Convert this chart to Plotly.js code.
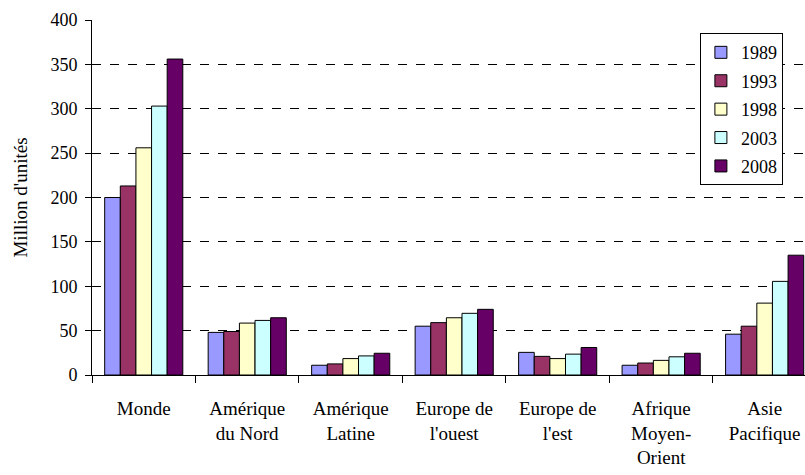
<!DOCTYPE html>
<html>
<head>
<meta charset="utf-8">
<script src="https://cdn.plot.ly/plotly-3.0.1.min.js"></script>
<style>html,body{margin:0;padding:0;background:#fff;}#chart{width:805px;height:475px;}</style>
</head>
<body>
<div id="chart"></div>
<script>
const categories = ["Monde", "Amérique<br>du Nord", "Amérique<br>Latine", "Europe de<br>l'ouest", "Europe de<br>l'est", "Afrique<br>Moyen-<br>Orient", "Asie<br>Pacifique"];
const years = ["1989", "1993", "1998", "2003", "2008"];
const v1989 = [200, 48, 11, 55, 25.5, 11, 46];
const v1993 = [213, 49, 12.5, 59, 21, 13.5, 55];
const v1998 = [256, 58.5, 18.5, 64.5, 18.5, 16.5, 81];
const v2003 = [303, 61.5, 21.5, 69.5, 23.5, 20.5, 105.5];
const v2008 = [356, 64.5, 24.5, 74, 31, 24.5, 135];
const seriesValues = [v1989, v1993, v1998, v2003, v2008];
const colors = ["#9999FF", "#993366", "#FFFFCC", "#CCFFFF", "#660066"];

const font = "Liberation Serif";
const traces = years.map((y, i) => ({
  type: "bar",
  name: y,
  x: categories,
  y: seriesValues[i],
  legendgroup: y,
  marker: {color: colors[i], line: {color: "#000", width: 1}},
  hoverinfo: "x+y+name"
}));

const layout = {
  width: 805, height: 475,
  margin: {l: 92, r: 0, t: 20, b: 100},
  paper_bgcolor: "#fff", plot_bgcolor: "#fff",
  font: {family: font, color: "#000", size: 18},
  barmode: "group",
  bargap: 0.245,
  bargroupgap: 0,
  showlegend: true,
  legend: {
    x: 0.969, xanchor: "right", y: 0.963, yanchor: "top",
    bordercolor: "#000", borderwidth: 1, bgcolor: "#fff",
    font: {family: font, size: 18, color: "#000"},
    tracegroupgap: 2, itemwidth: 30
  },
  xaxis: {
    type: "category",
    range: [-0.5, 6.39],
    showline: true, linecolor: "#000", linewidth: 1,
    ticks: "outside", tickson: "boundaries", ticklen: 7, tickcolor: "#000",
    ticklabelstandoff: 16,
    tickfont: {family: font, size: 19, color: "#000"},
    showgrid: false, zeroline: false, fixedrange: true
  },
  yaxis: {
    range: [0, 400],
    tickvals: [0, 50, 100, 150, 200, 250, 300, 350, 400],
    showline: true, linecolor: "#000", linewidth: 1,
    ticks: "outside", ticklen: 6, tickcolor: "#000",
    ticklabelstandoff: 4,
    tickfont: {family: font, size: 18, color: "#000"},
    showgrid: true, gridcolor: "#000", griddash: "dash", gridwidth: 1,
    zeroline: false,
    title: {text: "Million d'unités", font: {family: font, size: 19, color: "#000"}, standoff: 17},
    fixedrange: true
  }
};

Plotly.newPlot("chart", traces, layout, {displayModeBar: false, staticPlot: true});
</script>
</body>
</html>
